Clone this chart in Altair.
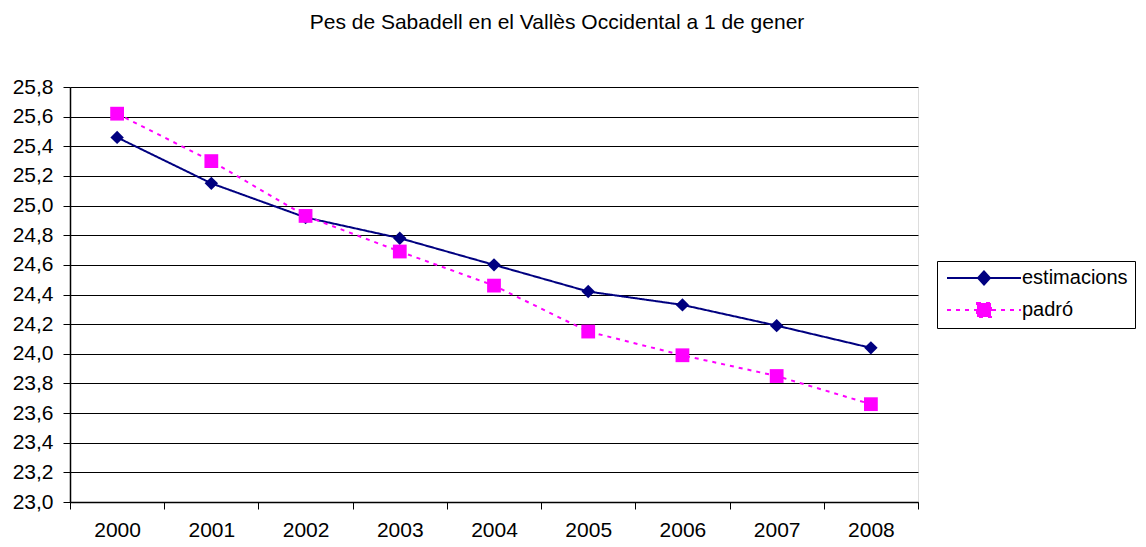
import altair as alt
import pandas as pd

years = ["2000", "2001", "2002", "2003", "2004", "2005", "2006", "2007", "2008"]
estimacions = [25.46, 25.15, 24.92, 24.78, 24.60, 24.42, 24.33, 24.19, 24.04]
padro = [25.62, 25.30, 24.93, 24.69, 24.46, 24.15, 23.99, 23.85, 23.66]
series_names = ["estimacions", "padró"]
colors = ["#000080", "#FF00FF"]
title_text = "Pes de Sabadell en el Vallès Occidental a 1 de gener"

rows = []
for y, v in zip(years, estimacions):
    rows.append({"any": y, "serie": "estimacions", "valor": v})
for y, v in zip(years, padro):
    rows.append({"any": y, "serie": "padró", "valor": v})
df = pd.DataFrame(rows)

FONT = "Liberation Sans"
FS = 21

x = alt.X("any:O", scale=alt.Scale(type="band", paddingInner=0, paddingOuter=0),
          axis=alt.Axis(title=None, labelAngle=0, tickBand="extent", grid=False,
                        labelFontSize=FS, labelPadding=10, tickSize=7, domainColor="#000",
                        tickColor="#000", labelColor="#000", labelFont=FONT, domainWidth=1.5))
y = alt.Y("valor:Q", scale=alt.Scale(domain=[23.0, 25.8], nice=False, zero=False),
          axis=alt.Axis(title=None, values=[round(23.0 + 0.2 * i, 1) for i in range(15)],
                        format=".1f", labelExpr="replace(datum.label, '.', ',')",
                        labelFontSize=FS, labelFont=FONT, labelColor="#000",
                        tickSize=7, tickColor="#000", domainColor="#000", domainWidth=1.5,
                        gridColor="#000", gridWidth=1, labelPadding=10))

# legend symbols: unit = 7 px (symbolSize 196); line spans 74 px, marker in its middle
diamond_path = "M-1,0L9.571,0M4.286,-0.93L5.143,0L4.286,0.93L3.429,0Z"
square_path = "M-1,0L9.571,0M3.286,-1L5.286,-1L5.286,1L3.286,1Z"

fill_enc = alt.Fill("serie:N", scale=alt.Scale(domain=series_names, range=colors),
                    legend=alt.Legend(
                        title=None, orient="none", legendX=867, legendY=174,
                        labelFont=FONT, labelFontSize=20, labelColor="#000",
                        symbolSize=196, symbolStrokeWidth=2, rowPadding=10,
                        padding=7, strokeColor="#000", labelOffset=58, symbolOpacity=1))
stroke_enc = alt.Stroke("serie:N", scale=alt.Scale(domain=series_names, range=colors))
dash_enc = alt.StrokeDash("serie:N", scale=alt.Scale(domain=series_names, range=[[1, 0], [4, 5]]))
shape_enc = alt.Shape("serie:N", scale=alt.Scale(domain=series_names, range=[diamond_path, square_path]))

legend_layer = alt.Chart(df).transform_filter("false").mark_point(filled=True, strokeWidth=2, opacity=1).encode(
    x=x, y=y, fill=fill_enc, stroke=stroke_enc, strokeDash=dash_enc, shape=shape_enc,
)

lines = alt.Chart(df).mark_line(strokeWidth=2).encode(
    x=x, y=y, stroke=stroke_enc, strokeDash=dash_enc,
)
pts_est = alt.Chart(df).transform_filter(alt.datum.serie == "estimacions").mark_point(
    filled=True, opacity=1, shape="diamond", size=180).encode(x=x, y=y, fill=fill_enc)
pts_pad = alt.Chart(df).transform_filter(alt.datum.serie == "padró").mark_point(
    filled=True, opacity=1, shape="square", size=190).encode(x=x, y=y, fill=fill_enc)

chart = alt.layer(legend_layer, lines, pts_est, pts_pad).properties(
    width=848, height=415,
    title=alt.TitleParams(title_text, font=FONT, fontSize=FS, fontWeight="normal", color="#000",
                          anchor="middle", offset=43, dx=63),
    autosize=alt.AutoSizeParams(type="none"),
    padding={"left": 62, "top": 79, "right": 220, "bottom": 37},
).configure_view(stroke="#808080", strokeWidth=2).configure(background="white")

chart.save("out.html", embed_options={"renderer": "svg", "actions": False})
